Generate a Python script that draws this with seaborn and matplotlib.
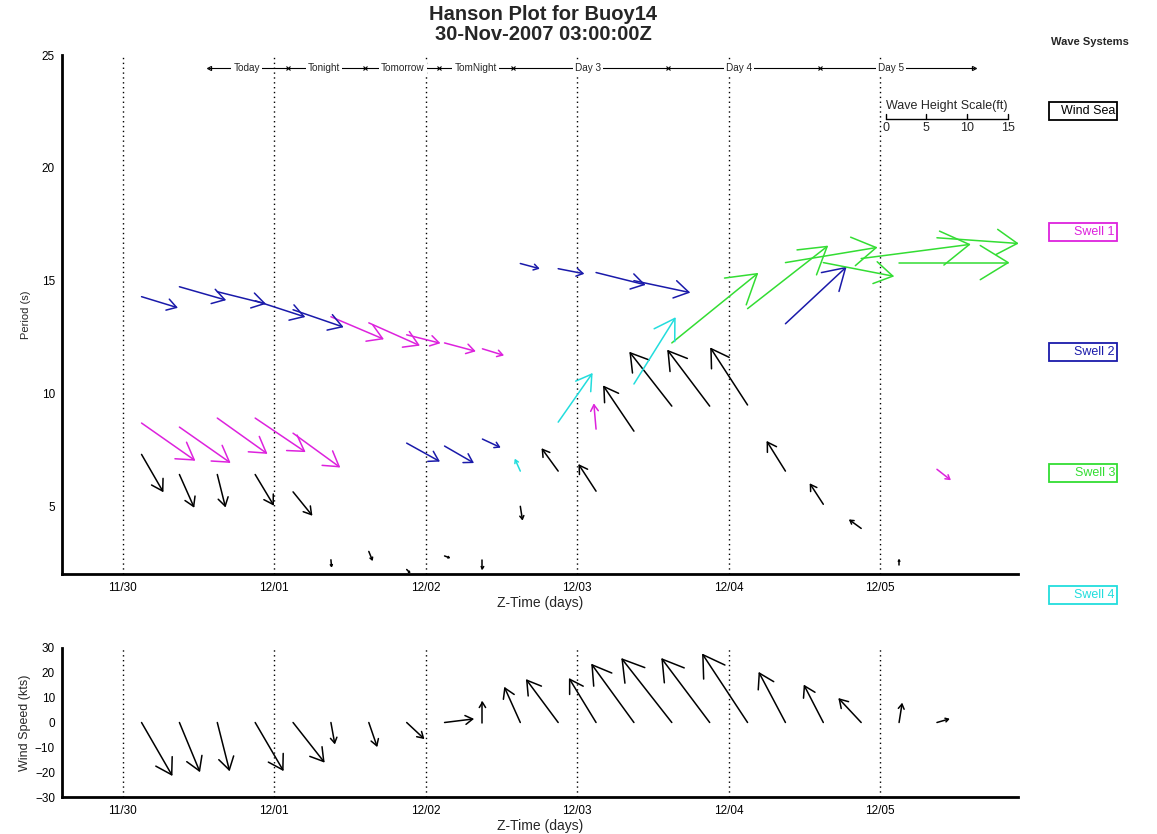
import numpy as np
import matplotlib
matplotlib.use("Agg")
import matplotlib.pyplot as plt
from matplotlib.patches import Rectangle
import seaborn as sns

# ---------------- data ----------------
day_ticks = [0, 1, 2, 3, 4, 5]
day_labels = ["11/30", "12/01", "12/02", "12/03", "12/04", "12/05"]

# Wind sea (black): time (days since 11/30 00Z), period (s), height (ft), direction (deg toward, clockwise from up)
ws_t = [0.125, 0.375, 0.625, 0.875, 1.125, 1.375, 1.625, 1.875, 2.125, 2.375, 2.625, 2.875, 3.125,
        3.375, 3.625, 3.875, 4.125, 4.375, 4.625, 4.875, 5.125]
ws_p = [7.3, 6.41, 6.41, 6.41, 5.64, 2.63, 3.0, 2.2, 2.8, 2.6, 5.0, 6.56, 5.67,
        8.33, 9.44, 9.44, 9.49, 6.56, 5.09, 4.02, 2.4]
ws_h = [5.2, 4.3, 4.0, 4.3, 3.6, 0.8, 1.1, 0.5, 0.6, 1.0, 1.6, 3.3, 3.8,
        6.6, 8.3, 8.5, 8.25, 4.2, 2.9, 1.7, 0.6]
ws_d = [150, 156, 166, 149, 141, 175, 158, 135, 110, 180, 171, 324, 327,
        326, 322, 323, 327, 328, 327, 306, 0]

# Swell 1 (magenta)
s1_t = [0.125, 0.375, 0.625, 0.875, 1.125, 1.375, 1.625, 1.875, 2.125, 2.375, 3.125, 5.375]
s1_p = [8.69, 8.51, 8.91, 8.91, 8.24, 13.4, 13.13, 12.6, 12.24, 11.98, 8.42, 6.64]
s1_h = [7.9, 7.5, 7.4, 7.3, 7.0, 6.9, 6.7, 4.1, 3.8, 2.6, 3.0, 2.0]
s1_d = [125, 125, 125.5, 124, 126, 113, 114, 104, 105, 107, 355, 128]

# Swell 2 (blue)
s2_t = [0.125, 0.375, 0.625, 0.875, 1.125, 1.875, 2.125, 2.375, 2.625, 2.875, 3.125, 3.375, 4.375]
s2_p = [14.29, 14.73, 14.51, 14.11, 13.71, 7.8, 7.67, 7.98, 15.76, 15.53, 15.36, 15.0, 13.09]
s2_h = [4.5, 5.8, 6.0, 6.3, 6.4, 4.5, 4.0, 2.3, 2.3, 3.1, 6.1, 6.9, 10.1]
s2_d = [107, 106, 104, 108, 109, 119, 120, 115, 105, 101, 104, 102, 47]

# Swell 3 (green)
s3_t = [3.625, 4.125, 4.375, 4.625, 4.875, 5.125, 5.375]
s3_p = [12.24, 13.76, 15.8, 15.8, 15.98, 15.8, 16.9]
s3_h = [13.5, 12.4, 11.3, 8.7, 13.4, 13.4, 9.9]
s3_d = [51, 52, 80.6, 101, 82.6, 90, 94]

# Swell 4 (cyan)
s4_t = [2.625, 2.875, 3.375]
s4_p = [6.56, 8.73, 10.42]
s4_h = [1.5, 7.2, 9.5]
s4_d = [336, 35, 32]

# Wind (bottom panel): time, speed (kts), direction (deg toward, clockwise from up)
wind_t = [0.125 + 0.25 * k for k in range(22)]
wind_s = [24.3, 21.1, 19.7, 22.1, 20.0, 8.4, 9.9, 9.2, 11.4, 8.1, 15.2, 21.2, 20.4, 28.7, 32.4,
          31.9, 32.7, 22.5, 16.6, 12.9, 7.5, 4.8]
wind_d = [150, 157.5, 165.8, 149.7, 141.8, 169.8, 161, 133, 83, 0, 335.8, 323.4, 328.6, 324,
          321.9, 323.1, 326.6, 332.1, 332.7, 316.9, 9, 73.9]

# Forecast period bar
seg_labels = ["Today", "Tonight", "Tomorrow", "TomNight", "Day 3", "Day 4", "Day 5"]
seg_label_t = [0.82, 1.33, 1.85, 2.33, 3.07, 4.07, 5.07]
sep_t = [1.09, 1.60, 2.09, 2.58, 3.60, 4.60]
bar_start, bar_end = 0.57, 5.62

scale_ticks = [0, 5, 10, 15]
systems = ["Wind Sea", "Swell 1", "Swell 2", "Swell 3", "Swell 4"]
sys_colors = ["#000000", "#dd22dd", "#1a1aaa", "#33dd33", "#22dddd"]

# ---------------- figure ----------------
sns.set_theme(style="white")
plt.rcParams["font.family"] = ["Liberation Sans", "DejaVu Sans"]

W, H = 1157, 834
fig = plt.figure(figsize=(W / 100, H / 100), dpi=100)
ax = fig.add_axes([62 / W, 1 - 574 / H, (1018 - 62) / W, (574 - 55) / H])
ax2 = fig.add_axes([62 / W, 1 - 797 / H, (1018 - 62) / W, (797 - 648) / H])

xlim = (-0.40, 5.91)
for a in (ax, ax2):
    a.set_xlim(*xlim)
    a.set_facecolor("white")
    for s in ("top", "right"):
        a.spines[s].set_visible(False)
    for s in ("left", "bottom"):
        a.spines[s].set_linewidth(2)
        a.spines[s].set_color("black")
    a.set_xticks(day_ticks)
    a.set_xticklabels(day_labels)
    a.tick_params(direction="in", length=5, width=1.5, labelsize=8.5, colors="black", pad=6)
    for d in day_ticks:
        a.axvline(d, ls=(0, (1, 2.5)), color="black", lw=1, zorder=1)
    a.set_xlabel("Z-Time (days)", fontsize=10, labelpad=1)

ax.set_ylim(2, 25)
ax.set_yticks([5, 10, 15, 20, 25])
ax.set_ylabel("Period (s)", fontsize=8, labelpad=8)
ax2.set_ylim(-30, 30)
ax2.set_yticks([-30, -20, -10, 0, 10, 20, 30])
ax2.set_ylabel("Wind Speed (kts)", fontsize=9, labelpad=3)
ax.tick_params(axis="y", pad=5)
ax2.tick_params(axis="y", pad=5)


def draw_arrows(a, t, y, lengths_px, dirs, color, lw=1.1):
    trans = a.transData
    inv = trans.inverted()
    for ti, yi, L, d in zip(t, y, lengths_px, dirs):
        x0, y0 = trans.transform((ti, yi))
        r = np.deg2rad(d)
        dx, dy = L * np.sin(r), L * np.cos(r)
        x1, y1 = x0 + dx, y0 + dy
        back = np.arctan2(dy, dx) + np.pi
        hl = 0.3 * L
        b1 = (x1 + hl * np.cos(back + 0.55), y1 + hl * np.sin(back + 0.55))
        b2 = (x1 + hl * np.cos(back - 0.55), y1 + hl * np.sin(back - 0.55))
        pts = inv.transform([(x0, y0), (x1, y1), b1, b2])
        a.plot([pts[0, 0], pts[1, 0]], [pts[0, 1], pts[1, 1]], color=color, lw=lw,
               solid_capstyle="round", zorder=3)
        a.plot([pts[2, 0], pts[1, 0], pts[3, 0]], [pts[2, 1], pts[1, 1], pts[3, 1]],
               color=color, lw=lw, zorder=3)


# wave height scale bar (defines ft -> pixels)
sc_x0, sc_x1, sc_y = 5.036, 5.842, 22.16
ax.plot([sc_x0, sc_x1], [sc_y, sc_y], color="black", lw=1)
for v in scale_ticks:
    xv = sc_x0 + (sc_x1 - sc_x0) * v / 15
    ax.plot([xv, xv], [sc_y, sc_y + 0.22], color="black", lw=1)
    ax.text(xv, sc_y - 0.12, str(v), ha="center", va="top", fontsize=9)
ax.text(sc_x0, sc_y + 0.3, "Wave Height Scale(ft)", ha="left", va="bottom", fontsize=9)

px0 = ax.transData.transform((sc_x0, sc_y))[0]
px1 = ax.transData.transform((sc_x1, sc_y))[0]
px_per_ft = (px1 - px0) / 15.0

wave_sets = [(ws_t, ws_p, ws_h, ws_d), (s1_t, s1_p, s1_h, s1_d), (s2_t, s2_p, s2_h, s2_d),
             (s3_t, s3_p, s3_h, s3_d), (s4_t, s4_p, s4_h, s4_d)]
for (t, p, h, d), c in zip(wave_sets, sys_colors):
    draw_arrows(ax, t, p, [hh * px_per_ft for hh in h], d, c)

# wind arrows: speed in kts -> pixels from the y axis scale
py0 = ax2.transData.transform((0, 0))[1]
py1 = ax2.transData.transform((0, 10))[1]
px_per_kt = (py1 - py0) / 10.0
draw_arrows(ax2, wind_t, [0] * len(wind_t), [s * px_per_kt for s in wind_s], wind_d, "black")

# forecast period bar
bar_y = 24.42
ax.plot([bar_start, bar_end], [bar_y, bar_y], color="black", lw=0.8, zorder=2)
ax.plot(sep_t, [bar_y] * len(sep_t), ls="none", marker="x", ms=3, mew=0.8, color="black", zorder=2)
ax.plot([bar_start], [bar_y], ls="none", marker="<", ms=3, mfc="none", mec="black", mew=0.8)
ax.plot([bar_end], [bar_y], ls="none", marker=">", ms=3, mfc="none", mec="black", mew=0.8)
for lab, tx in zip(seg_labels, seg_label_t):
    ax.text(tx, bar_y, lab, ha="center", va="center", fontsize=7.2, zorder=4,
            bbox=dict(facecolor="white", edgecolor="none", pad=1.5))

# title
fig.text(543 / W, 1 - 15 / H, "Hanson Plot for Buoy14", ha="center", va="center",
         fontsize=14.5, fontweight="bold")
fig.text(543 / W, 1 - 35 / H, "30-Nov-2007 03:00:00Z", ha="center", va="center",
         fontsize=14.5, fontweight="bold")

# legend boxes
fig.text(1090 / W, 1 - 42 / H, "Wave Systems", ha="center", va="center", fontsize=8,
         fontweight="bold")
box_l, box_r, box_h = 1049, 1117, 18
for name, c, yy in zip(systems, sys_colors, [111, 232, 352, 473, 595]):
    fig.patches.append(Rectangle((box_l / W, 1 - (yy + box_h / 2) / H), (box_r - box_l) / W,
                                 box_h / H, transform=fig.transFigure, facecolor="white",
                                 edgecolor=c, lw=1.3))
    fig.text((box_r - 2) / W, 1 - yy / H, name, ha="right", va="center", fontsize=9, color=c)

fig.savefig("out.png", dpi=100)
